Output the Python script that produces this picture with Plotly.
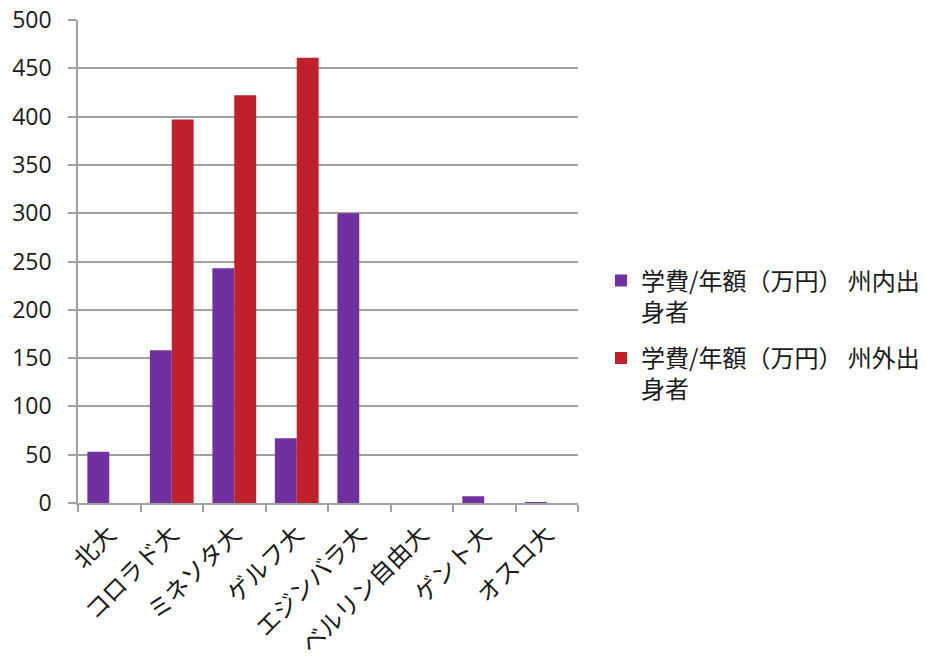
import plotly.graph_objects as go

categories = ["北大", "コロラド大", "ミネソタ大", "ゲルフ大", "エジンバラ大", "ベルリン自由大", "ゲント大", "オスロ大"]
in_state = [53, 158, 243, 67, 300, 0, 7, 0.8]
out_state = [0, 397, 422, 461, 0, 0, 0, 0]
series_names = ["学費/年額（万円） 州内出<br>身者", "学費/年額（万円） 州外出<br>身者"]
y_ticks = [0, 50, 100, 150, 200, 250, 300, 350, 400, 450, 500]

FONT = "Noto Sans CJK JP"

fig = go.Figure()
fig.add_trace(go.Bar(x=categories, y=in_state, name=series_names[0], legendgroup="a",
                     marker=dict(color="#7030A0", line=dict(width=0))))
fig.add_trace(go.Bar(x=categories, y=out_state, name=series_names[1], legendgroup="b",
                     marker=dict(color="#C0202A", line=dict(width=0))))

fig.update_layout(
    width=926, height=660,
    margin=dict(l=78, r=348, t=20, b=157, autoexpand=False),
    paper_bgcolor="white", plot_bgcolor="white",
    barmode="group", bargap=0.3, bargroupgap=0,
    font=dict(family=FONT, size=24, color="#1a1a1a"),
    legend=dict(x=1.046, y=0.348, xanchor="left", yanchor="middle", valign="top",
                traceorder="grouped", tracegroupgap=12,
                font=dict(size=24), itemwidth=30),
    xaxis=dict(type="category", tickson="boundaries", ticks="outside", ticklen=7,
               tickcolor="#A0A0A0", tickwidth=1.5, showline=True, linecolor="#A0A0A0",
               linewidth=1.5, tickangle=-45, showgrid=False, automargin=False,
               ticklabelstandoff=6, tickfont=dict(size=24, family=FONT)),
    yaxis=dict(range=[0, 500], tickvals=y_ticks, ticks="outside", ticklen=8,
               tickcolor="#A0A0A0", tickwidth=1.5, showline=True, linecolor="#A0A0A0",
               linewidth=1.5, showgrid=True, gridcolor="#A0A0A0", gridwidth=1.5,
               zeroline=False, ticklabelstandoff=12, automargin=False,
               tickfont=dict(size=23, family="Open Sans")),
)
fig.write_html("out.html")
